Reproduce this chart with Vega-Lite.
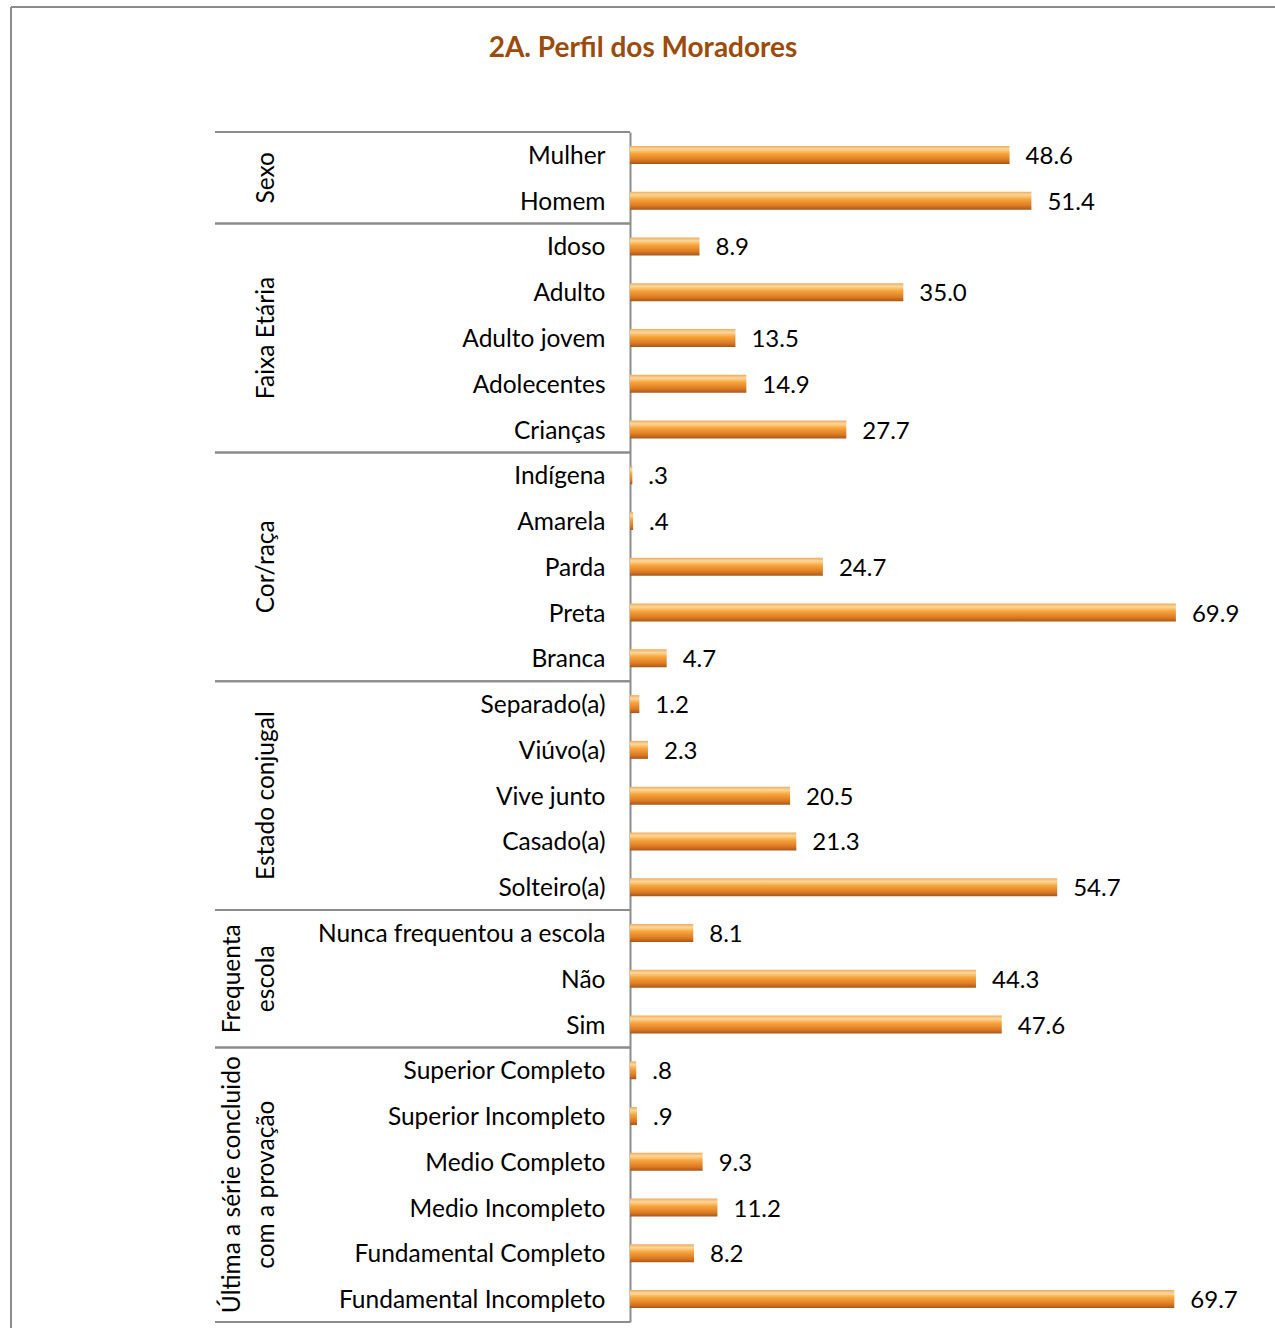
{
  "$schema": "https://vega.github.io/schema/vega-lite/v6.json",
  "width": 1264,
  "height": 1321,
  "autosize": {"type": "none"},
  "padding": {"left": 11, "top": 7, "right": 0, "bottom": 0},
  "background": "white",
  "title": {
    "text": "2A. Perfil dos Moradores",
    "anchor": "middle",
    "frame": "group",
    "offset": -56,
    "font": "Lato",
    "fontSize": 28,
    "fontWeight": "bold",
    "color": "#9D4B0B"
  },
  "config": {
    "view": {"stroke": "#8c8c8c", "strokeWidth": 2, "strokeDash": [1264, 2585, 1321, 0]},
    "font": "Lato"
  },
  "datasets": {
    "items": [
      {"group": "Sexo", "label": "Mulher", "value": 48.6},
      {"group": "Sexo", "label": "Homem", "value": 51.4},
      {"group": "Faixa Etária", "label": "Idoso", "value": 8.9},
      {"group": "Faixa Etária", "label": "Adulto", "value": 35.0},
      {"group": "Faixa Etária", "label": "Adulto jovem", "value": 13.5},
      {"group": "Faixa Etária", "label": "Adolecentes", "value": 14.9},
      {"group": "Faixa Etária", "label": "Crianças", "value": 27.7},
      {"group": "Cor/raça", "label": "Indígena", "value": 0.3},
      {"group": "Cor/raça", "label": "Amarela", "value": 0.4},
      {"group": "Cor/raça", "label": "Parda", "value": 24.7},
      {"group": "Cor/raça", "label": "Preta", "value": 69.9},
      {"group": "Cor/raça", "label": "Branca", "value": 4.7},
      {"group": "Estado conjugal", "label": "Separado(a)", "value": 1.2},
      {"group": "Estado conjugal", "label": "Viúvo(a)", "value": 2.3},
      {"group": "Estado conjugal", "label": "Vive junto", "value": 20.5},
      {"group": "Estado conjugal", "label": "Casado(a)", "value": 21.3},
      {"group": "Estado conjugal", "label": "Solteiro(a)", "value": 54.7},
      {"group": "Frequenta escola", "label": "Nunca frequentou a escola", "value": 8.1},
      {"group": "Frequenta escola", "label": "Não", "value": 44.3},
      {"group": "Frequenta escola", "label": "Sim", "value": 47.6},
      {"group": "Última a série concluido com a provação", "label": "Superior Completo", "value": 0.8},
      {"group": "Última a série concluido com a provação", "label": "Superior Incompleto", "value": 0.9},
      {"group": "Última a série concluido com a provação", "label": "Medio Completo", "value": 9.3},
      {"group": "Última a série concluido com a provação", "label": "Medio Incompleto", "value": 11.2},
      {"group": "Última a série concluido com a provação", "label": "Fundamental Completo", "value": 8.2},
      {"group": "Última a série concluido com a provação", "label": "Fundamental Incompleto", "value": 69.7}
    ],
    "groups": [
      {"group": "Sexo", "title": "Sexo", "n": 2, "first": "Mulher", "middle": "Homem", "last": "Homem"},
      {"group": "Faixa Etária", "title": "Faixa Etária", "n": 5, "first": "Idoso", "middle": "Adulto jovem", "last": "Crianças"},
      {"group": "Cor/raça", "title": "Cor/raça", "n": 5, "first": "Indígena", "middle": "Parda", "last": "Branca"},
      {"group": "Estado conjugal", "title": "Estado conjugal", "n": 5, "first": "Separado(a)", "middle": "Vive junto", "last": "Solteiro(a)"},
      {"group": "Frequenta escola", "title": "Frequenta\nescola", "n": 3, "first": "Nunca frequentou a escola", "middle": "Não", "last": "Sim"},
      {"group": "Última a série concluido com a provação", "title": "Última a série concluido\ncom a provação", "n": 6, "first": "Superior Completo", "middle": "Medio Incompleto", "last": "Fundamental Incompleto"}
    ]
  },
  "layer": [
    {
      "data": {"name": "items"},
      "mark": {
        "type": "bar",
        "orient": "horizontal",
        "size": 18,
        "fill": {
          "gradient": "linear", "x1": 0, "y1": 0, "x2": 0, "y2": 1,
          "stops": [
            {"offset": 0, "color": "#F2A95A"},
            {"offset": 0.18, "color": "#FDD89C"},
            {"offset": 0.42, "color": "#F7A53C"},
            {"offset": 0.78, "color": "#DC7A22"},
            {"offset": 1, "color": "#A9561A"}
          ]
        }
      },
      "encoding": {
        "y": {
          "field": "label", "type": "nominal",
          "scale": {
            "domain": ["Mulher", "Homem", "Idoso", "Adulto", "Adulto jovem", "Adolecentes", "Crianças", "Indígena", "Amarela", "Parda", "Preta", "Branca", "Separado(a)", "Viúvo(a)", "Vive junto", "Casado(a)", "Solteiro(a)", "Nunca frequentou a escola", "Não", "Sim", "Superior Completo", "Superior Incompleto", "Medio Completo", "Medio Incompleto", "Fundamental Completo", "Fundamental Incompleto"],
            "range": [125, 1315],
            "paddingInner": 0, "paddingOuter": 0
          },
          "axis": {
            "title": null,
            "orient": "left",
            "offset": -619,
            "ticks": false,
            "labelPadding": 25,
            "labelOffset": 2,
            "labelFont": "Lato",
            "labelFontSize": 24.5,
            "labelColor": "#000000",
            "labelLimit": 600,
            "domainColor": "#8c8c8c",
            "domainWidth": 2
          }
        },
        "x": {
          "field": "value", "type": "quantitative",
          "scale": {"domain": [-79.26, 82.59], "nice": false, "zero": false},
          "axis": null
        }
      }
    },
    {
      "data": {"name": "items"},
      "transform": [
        {"calculate": "datum.value < 1 ? substring(format(datum.value, '.1f'), 1) : format(datum.value, '.1f')", "as": "txt"}
      ],
      "mark": {"type": "text", "align": "left", "baseline": "middle", "dx": 16, "dy": 2, "fontSize": 24, "font": "Lato", "color": "#000000"},
      "encoding": {
        "y": {"field": "label", "type": "nominal"},
        "x": {"field": "value", "type": "quantitative"},
        "text": {"field": "txt", "type": "nominal"}
      }
    },
    {
      "data": {"name": "groups"},
      "mark": {"type": "rule", "color": "#8c8c8c", "strokeWidth": 2},
      "encoding": {
        "y": {"field": "first", "type": "nominal", "bandPosition": 0},
        "x": {"datum": -53.14},
        "x2": {"datum": 0}
      }
    },
    {
      "data": {"name": "groups"},
      "mark": {"type": "rule", "color": "#8c8c8c", "strokeWidth": 2},
      "encoding": {
        "y": {"field": "last", "type": "nominal", "bandPosition": 1},
        "x": {"datum": -53.14},
        "x2": {"datum": 0}
      }
    },
    {
      "data": {"name": "groups"},
      "transform": [{"filter": "datum.n % 2 == 1 && indexof(datum.title, '\\n') < 0"}],
      "mark": {"type": "text", "angle": 270, "align": "center", "baseline": "bottom", "lineBreak": "\n", "fontSize": 24.5, "font": "Lato", "color": "#000000", "lineHeight": 34},
      "encoding": {
        "y": {"field": "middle", "type": "nominal", "bandPosition": 0.5},
        "x": {"datum": -44.94},
        "text": {"field": "title", "type": "nominal"}
      }
    },
    {
      "data": {"name": "groups"},
      "transform": [{"filter": "datum.n % 2 == 0 && indexof(datum.title, '\\n') < 0"}],
      "mark": {"type": "text", "angle": 270, "align": "center", "baseline": "bottom", "lineBreak": "\n", "fontSize": 24.5, "font": "Lato", "color": "#000000", "lineHeight": 34},
      "encoding": {
        "y": {"field": "middle", "type": "nominal", "bandPosition": 0},
        "x": {"datum": -44.94},
        "text": {"field": "title", "type": "nominal"}
      }
    },
    {
      "data": {"name": "groups"},
      "transform": [{"filter": "datum.n % 2 == 1 && indexof(datum.title, '\\n') >= 0"}],
      "mark": {"type": "text", "angle": 270, "align": "center", "baseline": "bottom", "lineBreak": "\n", "fontSize": 24.5, "font": "Lato", "color": "#000000", "lineHeight": 34, "dy": -34},
      "encoding": {
        "y": {"field": "middle", "type": "nominal", "bandPosition": 0.5},
        "x": {"datum": -44.94},
        "text": {"field": "title", "type": "nominal"}
      }
    },
    {
      "data": {"name": "groups"},
      "transform": [{"filter": "datum.n % 2 == 0 && indexof(datum.title, '\\n') >= 0"}],
      "mark": {"type": "text", "angle": 270, "align": "center", "baseline": "bottom", "lineBreak": "\n", "fontSize": 24.5, "font": "Lato", "color": "#000000", "lineHeight": 34, "dy": -34},
      "encoding": {
        "y": {"field": "middle", "type": "nominal", "bandPosition": 0},
        "x": {"datum": -44.94},
        "text": {"field": "title", "type": "nominal"}
      }
    }
  ]
}
